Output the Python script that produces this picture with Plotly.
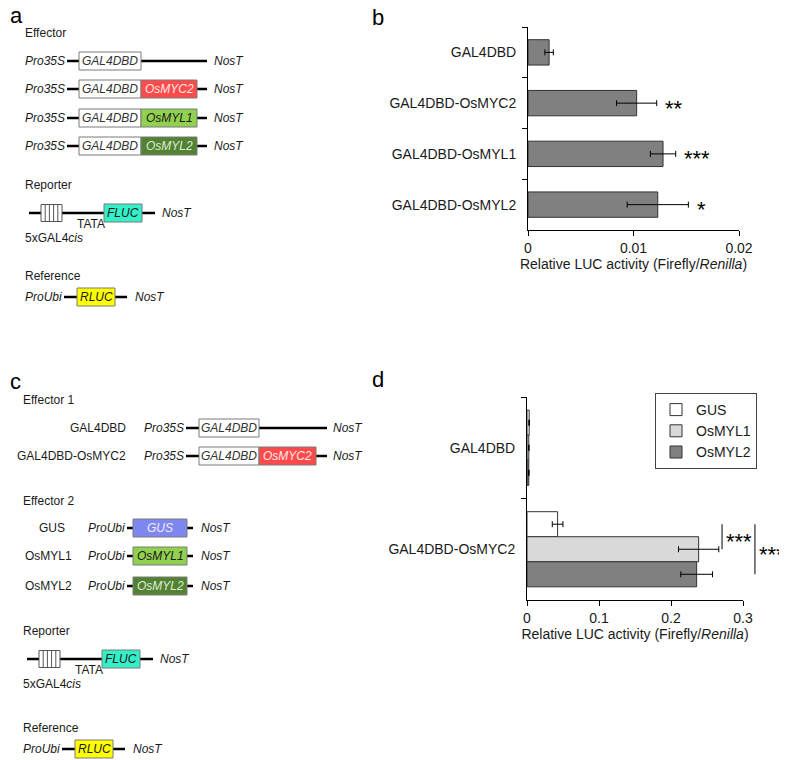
import plotly.graph_objects as go

FONT = "Arial, Liberation Sans, sans-serif"
TXT = "#1a1a1a"

# ---- panel b data ----
b_labels = ["GAL4DBD", "GAL4DBD-OsMYC2", "GAL4DBD-OsMYL1", "GAL4DBD-OsMYL2"]
b_values = [0.0020, 0.0103, 0.0128, 0.0123]
b_errors = [0.0004, 0.0019, 0.0012, 0.0029]
b_stars = ["", "**", "***", "*"]
b_tickvals = [0, 0.01, 0.02]
b_ticktext = ["0", "0.01", "0.02"]

# ---- panel d data ----
d_labels = ["GAL4DBD", "GAL4DBD-OsMYC2"]
d_series = ["GUS", "OsMYL1", "OsMYL2"]
d_gus = [0.0030, 0.0425]
d_gus_err = [0.0005, 0.0074]
d_myl1 = [0.0025, 0.2384]
d_myl1_err = [0.0004, 0.0280]
d_myl2 = [0.0025, 0.2356]
d_myl2_err = [0.0004, 0.0220]
d_stars = ["***", "***"]
d_tickvals = [0, 0.1, 0.2, 0.3]
d_ticktext = ["0", "0.1", "0.2", "0.3"]

# page coordinates are those of the 787x760 window; the html body adds an
# 8px margin, so the figure itself is 8px smaller and starts at (8, 8)
PAGE_W, PAGE_H, OFF = 787, 760, 8
W, H = PAGE_W - OFF, PAGE_H - OFF
shapes, annos = [], []


def px_dom(a, b):
    return [(a - OFF) / W, (b - OFF) / W]


def ydom(top, bottom):
    return [1 - (bottom - OFF) / H, 1 - (top - OFF) / H]


def text(s, x, y, anchor="left", color=TXT, size=12):
    annos.append(dict(text=s, x=x, y=y, xref="x3", yref="y3", xanchor=anchor,
                      yanchor="middle", showarrow=False,
                      font=dict(family=FONT, size=size, color=color)))


def backbone(x0, x1, y):
    shapes.append(dict(type="line", xref="x3", yref="y3", x0=x0, x1=x1, y0=y, y1=y,
                       line=dict(color="black", width=2.5)))


def gene(x0, x1, y, fill, label, color):
    shapes.append(dict(type="rect", xref="x3", yref="y3", x0=x0, x1=x1, y0=y - 9, y1=y + 9,
                       fillcolor=fill, line=dict(color="#7a7a7a", width=1)))
    text("<i>%s</i>" % label, (x0 + x1) / 2, y, "center", color)


def reporter(lx, x0, y):
    text("Reporter", lx, y - 28)
    backbone(x0, x0 + 126, y)
    shapes.append(dict(type="rect", xref="x3", yref="y3", x0=x0 + 12, x1=x0 + 33,
                       y0=y - 8.5, y1=y + 8.5, fillcolor="white",
                       line=dict(color="#555", width=1)))
    for k in range(1, 5):
        xs = x0 + 12 + k * 21 / 5
        shapes.append(dict(type="line", xref="x3", yref="y3", x0=xs, x1=xs,
                           y0=y - 8.5, y1=y + 8.5, line=dict(color="#555", width=1)))
    gene(x0 + 75, x0 + 113, y, "#33f0c8", "FLUC", TXT)
    text("<i>NosT</i>", x0 + 131, y)
    text("TATA", x0 + 46, y + 11)
    text("5xGAL4<i>cis</i>", lx, y + 25)


def reference(lx, y):
    text("Reference", lx, y - 21)
    text("<i>ProUbi</i>", lx, y)
    backbone(lx + 41, lx + 104, y)
    gene(lx + 54, lx + 92, y, "#ffff00", "RLUC", TXT)
    text("<i>NosT</i>", lx + 110, y)


RED, LGREEN, DGREEN, BLUE = "#ff4b4b", "#92d050", "#548235", "#7f86f0"
fusions = [None, ("OsMYC2", RED, "#ffe8e8"), ("OsMYL1", LGREEN, TXT),
           ("OsMYL2", DGREEN, "#dcebd3")]

# panel letters (kept just inside the figure area)
text("a", OFF, 15, size=22, color="black")
text("c", OFF, 381, size=22, color="black")
text("b", 370, 17, size=22, color="black")
text("d", 370, 379, size=22, color="black")

# ---- panel a schematic ----
text("Effector", 23, 33)
for y, fus in zip([61, 89, 118, 146], fusions):
    text("<i>Pro35S</i>", 23, y)
    backbone(67, 207, y)
    gene(79, 141, y, "white", "GAL4DBD", "#333")
    if fus:
        gene(141, 197, y, fus[1], fus[0], fus[2])
    text("<i>NosT</i>", 212, y)
reporter(23, 29, 213)
reference(23, 297)

# ---- panel c schematic ----
text("Effector 1", 21, 400)
for y, name, fus in zip([428, 456], ["GAL4DBD", "GAL4DBD-OsMYC2"], fusions[:2]):
    text(name, 128, y, "right")
    text("<i>Pro35S</i>", 142, y)
    backbone(186, 327, y)
    gene(199, 259, y, "white", "GAL4DBD", "#333")
    if fus:
        gene(259, 316, y, fus[1], fus[0], fus[2])
    text("<i>NosT</i>", 331, y)
text("Effector 2", 21, 501)
for y, lx, name, fill, tcol in zip([528, 556, 586], [37, 23, 23], d_series,
                                   [BLUE, LGREEN, DGREEN], ["#eef0ff", TXT, "#dcebd3"]):
    text(name, lx, y)
    text("<i>ProUbi</i>", 86, y)
    backbone(127, 193, y)
    gene(133, 187, y, fill, name, tcol)
    text("<i>NosT</i>", 199, y)
reporter(21, 27, 659)
reference(21, 749)

fig = go.Figure()

# ---- panel b bars ----
fig.add_trace(go.Bar(
    y=b_labels, x=b_values, orientation="h", width=0.5,
    marker=dict(color="#808080", line=dict(color="#333333", width=1)),
    error_x=dict(type="data", array=b_errors, color="black", thickness=1, width=3),
    xaxis="x", yaxis="y", showlegend=False, hoverinfo="skip",
))
for lab, v, e, s in zip(b_labels, b_values, b_errors, b_stars):
    if s:
        annos.append(dict(text=s, x=v + e + 0.0006, y=lab, xref="x", yref="y",
                          xanchor="left", yanchor="middle", yshift=-5, showarrow=False,
                          font=dict(family=FONT, size=22, color="black")))

# ---- panel d bars ----
d_fill = ["white", "#d9d9d9", "#808080"]
for name, vals, errs, fill in zip(d_series, [d_gus, d_myl1, d_myl2],
                                  [d_gus_err, d_myl1_err, d_myl2_err], d_fill):
    fig.add_trace(go.Bar(
        y=d_labels, x=vals, orientation="h", name=name,
        marker=dict(color=fill, line=dict(color="#333333", width=1)),
        error_x=dict(type="data", array=errs, color="black", thickness=1, width=3),
        xaxis="x2", yaxis="y2", hoverinfo="skip",
    ))

# significance brackets (GUS vs OsMYL1, GUS vs OsMYL2)
bw = (1 - 0.26) / 3
line_x = [0.2709, 0.3166]
for i, (lx, s) in enumerate(zip(line_x, d_stars)):
    shapes.append(dict(type="line", xref="x2 domain", yref="y2",
                       x0=lx / 0.3, x1=lx / 0.3, y0=1 - bw, y1=1 + i * bw,
                       line=dict(color="black", width=1)))
    annos.append(dict(text=s, x=lx / 0.3 + 0.01, y=1 - bw / 2 + i * bw / 2,
                      xref="x2 domain", yref="y2", xanchor="left", yanchor="middle",
                      yshift=-5, showarrow=False,
                      font=dict(family=FONT, size=22, color="black")))

fig.add_trace(go.Scatter(x=[], y=[], xaxis="x3", yaxis="y3", showlegend=False,
                         hoverinfo="skip"))

xtitle = "Relative LUC activity (Firefly/<i>Renilla</i>)"
axis_common = dict(showline=True, linecolor="black", linewidth=1, ticks="outside",
                   ticklen=5, tickcolor="black", showgrid=False, zeroline=False,
                   automargin=False,
                   tickfont=dict(family=FONT, size=14, color=TXT))

fig.update_layout(
    width=W, height=H, margin=dict(l=0, r=0, t=0, b=0, pad=0, autoexpand=False),
    paper_bgcolor="white", plot_bgcolor="rgba(0,0,0,0)",
    barmode="group", bargap=0.26, bargroupgap=0,
    font=dict(family=FONT, size=14, color=TXT),
    xaxis=dict(domain=px_dom(528, 739), range=[0, 0.02], tickvals=b_tickvals,
               ticktext=b_ticktext, anchor="y",
               title=dict(text=xtitle, standoff=4, font=dict(size=14)), **axis_common),
    yaxis=dict(domain=ydom(27, 230), type="category", categoryarray=b_labels,
               autorange="reversed", tickson="boundaries", anchor="x",
               ticklabelstandoff=8, **axis_common),
    xaxis2=dict(domain=px_dom(527, 743), range=[0, 0.3], tickvals=d_tickvals,
                ticktext=d_ticktext, anchor="y2",
                title=dict(text=xtitle, standoff=4, font=dict(size=14)), **axis_common),
    yaxis2=dict(domain=ydom(397, 600), type="category", categoryarray=d_labels,
                autorange="reversed", tickson="boundaries", anchor="x2",
                ticklabelstandoff=8, **axis_common),
    xaxis3=dict(domain=[0, 1], range=[OFF, PAGE_W], visible=False, anchor="y3",
                fixedrange=True),
    yaxis3=dict(domain=[0, 1], range=[PAGE_H, OFF], visible=False, anchor="x3",
                fixedrange=True),
    legend=dict(x=(757 - OFF) / W, y=1 - (393 - OFF) / H, xanchor="right", yanchor="top",
                bgcolor="white", bordercolor="#444", borderwidth=1,
                font=dict(family=FONT, size=14, color=TXT), itemwidth=30,
                tracegroupgap=0, traceorder="normal"),
    shapes=shapes, annotations=annos,
)

fig.write_html("out.html")
